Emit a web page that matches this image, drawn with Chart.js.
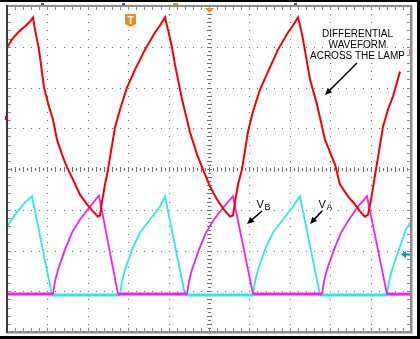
<!DOCTYPE html>
<html><head><meta charset="utf-8">
<script src="https://cdn.jsdelivr.net/npm/chart.js@4.4.1/dist/chart.umd.min.js"></script>
<style>html,body{margin:0;padding:0;background:#fff;overflow:hidden}canvas{display:block}</style>
</head><body>
<canvas id="c" width="420" height="339"></canvas>
<script>
// time axis in divisions (0..10), amplitude in divisions (-4..4)
const redT = [0,0.124,0.272,0.446,0.569,0.644,0.693,0.792,0.916,1.040,1.139,1.238,1.361,1.485,1.634,1.807,1.980,2.129,2.252,2.302,2.351,2.426,2.500,2.673,2.797,2.970,3.168,3.416,3.663,3.787,3.911,3.985,4.084,4.158,4.332,4.530,4.703,4.851,5.025,5.198,5.371,5.520,5.594,5.644,5.718,5.817,5.965,6.089,6.262,6.460,6.708,6.955,7.079,7.203,7.277,7.327,7.500,7.673,7.871,8.119,8.243,8.441,8.614,8.738,8.861,8.936,9.010,9.134,9.307,9.431,9.554,9.728];
const redV = [2.98,3.18,3.35,3.50,3.62,3.72,3.42,2.93,2.00,1.53,1.21,0.72,0.36,0.04,-0.26,-0.63,-0.87,-1.04,-1.17,-1.14,-0.80,-0.38,-0.01,1.02,1.46,2.00,2.44,2.93,3.35,3.52,3.72,3.42,2.98,2.56,1.71,0.90,0.36,-0.01,-0.43,-0.75,-1.00,-1.17,-1.14,-0.80,-0.38,-0.01,0.92,1.41,1.95,2.39,2.93,3.35,3.52,3.72,3.42,3.18,2.20,1.58,0.72,0.11,-0.38,-0.67,-0.87,-1.04,-1.17,-1.12,-0.75,-0.01,1.04,1.46,1.78,2.39];
const vaT = [0,0.198,0.446,0.619,1.114,2.797,2.847,2.921,3.094,3.292,3.540,3.787,3.911,4.406,6.089,6.139,6.213,6.386,6.584,6.832,7.079,7.252,7.748,9.406,9.455,9.530,9.703,9.876,10];
const vaV = [-1.41,-1.12,-0.82,-0.67,-3.09,-3.09,-2.76,-2.47,-1.98,-1.56,-1.24,-0.92,-0.67,-3.09,-3.09,-2.76,-2.47,-1.98,-1.56,-1.24,-0.92,-0.67,-3.09,-3.09,-2.76,-2.47,-1.98,-1.48,-1.29];
const vbT = [0,1.139,1.188,1.262,1.436,1.609,1.807,2.054,2.277,2.748,4.455,4.505,4.579,4.752,4.926,5.124,5.371,5.594,6.089,7.797,7.847,7.921,8.094,8.267,8.465,8.688,8.911,9.406,10];
const vbV = [-3.07,-3.07,-2.76,-2.47,-1.98,-1.56,-1.24,-0.92,-0.65,-3.07,-3.07,-2.76,-2.47,-1.98,-1.56,-1.24,-0.92,-0.67,-3.07,-3.07,-2.76,-2.47,-1.98,-1.56,-1.24,-0.92,-0.67,-3.07,-3.07];
const xDivs = [0,10];
const yDivs = [-4,4];
const noteLines = ["DIFFERENTIAL","WAVEFORM","ACROSS THE LAMP"];
const labelB = ["V","B"];
const labelA = ["V","A"];

const pts = (T,V)=>T.map((t,i)=>({x:t,y:V[i]}));
const thick = c => (c.p0.parsed.y < -3 && c.p1.parsed.y < -3) ? 3 : 1.8;

function arrow(ctx,x1,y1,x2,y2,col){
  const a=Math.atan2(y2-y1,x2-x1), L=7, W=3.2;
  ctx.strokeStyle=col; ctx.fillStyle=col; ctx.lineWidth=1.6;
  ctx.beginPath(); ctx.moveTo(x1,y1); ctx.lineTo(x2-Math.cos(a)*L*0.8,y2-Math.sin(a)*L*0.8); ctx.stroke();
  ctx.beginPath(); ctx.moveTo(x2,y2);
  ctx.lineTo(x2-Math.cos(a)*L-Math.sin(a)*W, y2-Math.sin(a)*L+Math.cos(a)*W);
  ctx.lineTo(x2-Math.cos(a)*L+Math.sin(a)*W, y2-Math.sin(a)*L-Math.cos(a)*W);
  ctx.closePath(); ctx.fill();
}

const scope = {
  id:'scope',
  beforeDatasetsDraw(chart){
    const {ctx, chartArea:a, scales:{x,y}} = chart;
    ctx.save();
    ctx.fillStyle='#707070';
    for(let i=1;i<10;i++){ if(i===5) continue;
      const px=Math.round(x.getPixelForValue(i));
      for(let k=1;k<40;k++){ ctx.fillRect(px,Math.round(y.getPixelForValue(-4+k*0.2)),1,1); } }
    for(let j=1;j<8;j++){ if(j===4) continue;
      const py=Math.round(y.getPixelForValue(-4+j));
      for(let k=1;k<50;k++){ ctx.fillRect(Math.round(x.getPixelForValue(k*0.2)),py,1,1); } }
    const cx=Math.round(x.getPixelForValue(5)), cy=Math.round(y.getPixelForValue(0));
    for(let k=1;k<80;k++){ const py=Math.round(y.getPixelForValue(-4+k*0.1)); const L=k%2===0?5:3; ctx.fillRect(cx-(L-1)/2,py,L,1); }
    for(let k=1;k<100;k++){ const px=Math.round(x.getPixelForValue(k*0.1)); const L=k%2===0?5:3; ctx.fillRect(px,cy-(L-1)/2,1,L); }
    // frame ticks
    ctx.fillStyle='#8a8a8a';
    for(let k=1;k<50;k++){ const px=Math.round(x.getPixelForValue(k*0.2)); ctx.fillRect(px,a.top+1,1,3); ctx.fillRect(px,a.bottom-4,1,3); }
    for(let k=1;k<40;k++){ const py=Math.round(y.getPixelForValue(-4+k*0.2)); ctx.fillRect(a.left+1,py,3,1); ctx.fillRect(a.right-4,py,3,1); }
    ctx.restore();
  },
  afterDatasetsDraw(chart){
    const {ctx, chartArea:a} = chart;
    ctx.save();
    // frame
    ctx.strokeStyle='#8c8c8c'; ctx.lineWidth=2;
    ctx.strokeRect(a.left,a.top,a.right-a.left,a.bottom-a.top);
    ctx.fillStyle='#3a3a3a'; ctx.fillRect(a.left-1,a.top-1,2,a.bottom-a.top+2);
    ctx.fillStyle='#c4c4c4'; ctx.fillRect(a.left,a.bottom+1,a.right-a.left+2,1); ctx.fillRect(a.right+1,a.top,1,a.bottom-a.top+2);
    // outer border
    ctx.fillStyle='#000';
    ctx.fillRect(0,0,420,2); ctx.fillRect(417,0,3,339); ctx.fillRect(0,336,420,3);
    // top markers
    ctx.fillStyle='#555'; [42,123,295].forEach(px=>ctx.fillRect(px-1,3,3,2));
    ctx.fillStyle='#f08a24'; ctx.fillRect(173,3,5,2);
    ctx.beginPath(); ctx.moveTo(205,8); ctx.lineTo(214,8); ctx.lineTo(209.5,13); ctx.closePath(); ctx.fill();
    // trigger T marker
    ctx.fillStyle='#f08a24';
    ctx.beginPath(); ctx.moveTo(125,15); ctx.quadraticCurveTo(125,14,126,14); ctx.lineTo(135,14); ctx.quadraticCurveTo(136,14,136,15);
    ctx.lineTo(136,24); ctx.lineTo(130.5,27); ctx.lineTo(125,24); ctx.closePath(); ctx.fill();
    ctx.fillStyle='#fff'; ctx.font='bold 10px "Liberation Sans", Arial, sans-serif'; ctx.textAlign='center'; ctx.textBaseline='alphabetic';
    ctx.fillText('T',130.5,24);
    // channel markers
    ctx.fillStyle='#e00000'; ctx.fillRect(5,116,3,4);
    ctx.fillStyle='#f07080'; ctx.fillRect(409,49,2,6);
    ctx.fillStyle='#009a9a';
    ctx.beginPath(); ctx.moveTo(401,254.5); ctx.lineTo(406,251); ctx.lineTo(406,258); ctx.closePath(); ctx.fill();
    ctx.fillRect(405,253.5,5,2);
    // annotation text
    ctx.fillStyle='#000'; ctx.font='10px "Liberation Sans", Arial, sans-serif'; ctx.textAlign='center';
    noteLines.forEach((s,i)=>ctx.fillText(s,357.5,37+i*11));
    arrow(ctx,357,63,325,95,'#000');
    ctx.textAlign='left';
    ctx.font='11px "Liberation Sans", Arial, sans-serif'; ctx.fillText(labelB[0],256.5,208);
    ctx.font='9px "Liberation Sans", Arial, sans-serif'; ctx.fillText(labelB[1],264.5,210);
    ctx.font='11px "Liberation Sans", Arial, sans-serif'; ctx.fillText(labelA[0],318.5,208);
    ctx.font='9px "Liberation Sans", Arial, sans-serif'; ctx.fillText(labelA[1],326.5,210);
    arrow(ctx,262,211,247,224,'#000');
    arrow(ctx,322,211,310,224,'#000');
    ctx.restore();
  }
};

new Chart(document.getElementById('c'),{
  type:'line',
  data:{datasets:[
    {label:'Differential',data:pts(redT,redV),borderColor:'#f50000',borderWidth:2,pointRadius:0,tension:0},
    {label:'VB',data:pts(vbT,vbV),borderColor:'#f020f0',pointRadius:0,tension:0,segment:{borderWidth:thick}},
    {label:'VA',data:pts(vaT,vaV),borderColor:'#30e4f0',pointRadius:0,tension:0,segment:{borderWidth:thick}}
  ]},
  options:{
    responsive:false, animation:false, devicePixelRatio:1,
    layout:{padding:{left:7,top:6,right:9,bottom:7}},
    plugins:{legend:{display:false},tooltip:{enabled:false}},
    scales:{
      x:{type:'linear',min:xDivs[0],max:xDivs[1],display:false},
      y:{type:'linear',min:yDivs[0],max:yDivs[1],display:false}
    }
  },
  plugins:[scope]
});
</script>
</body></html>
